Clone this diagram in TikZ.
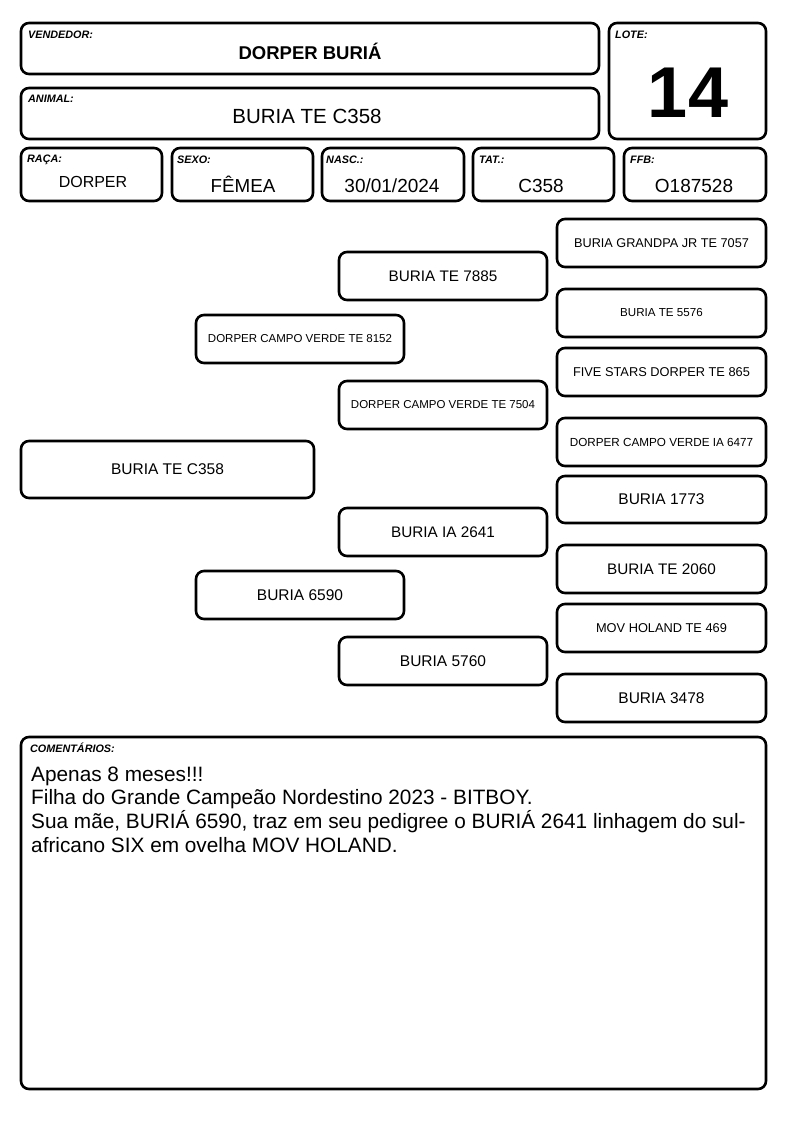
\documentclass[tikz,border=0pt]{standalone}
\usepackage{fontspec}
\setmainfont{Liberation Sans}
\tikzset{
  box/.style={draw, line width=2.6pt, rounded corners=8pt, inner sep=0pt, outer sep=0pt, align=center},
  lab/.style={font=\fontsize{10.8}{12}\selectfont\bfseries\itshape, anchor=base west, inner sep=0pt},
  val/.style={anchor=base, inner sep=0pt},
  com/.style={font=\fontsize{20.8}{24}\selectfont, anchor=base west, inner sep=0pt},
}
\newcommand\mybox[7]{\node[box, minimum width={(#4-#2)*1pt}, minimum height={(#5-#3)*1pt}, font=#6] (#1) at ({(#2+#4)/2},{(#3+#5)/2}) {#7};}
\begin{document}
\begin{tikzpicture}[x=1pt,y=-1pt]
\useasboundingbox (0,0) rectangle (794,1123);
% header
\mybox{vend}{21}{23}{599}{74}{}{}
\node[lab] (vendl) at (28,39) {VENDEDOR:};
\node[val, font=\fontsize{18.5}{22}\selectfont\bfseries] (vendv) at (310,60) {DORPER BURIÁ};
\mybox{anim}{21}{88}{599}{139}{}{}
\node[lab] (animl) at (28,103) {ANIMAL:};
\node[val, font=\fontsize{20.5}{24}\selectfont] (animv) at (307,124) {BURIA TE C358};
\mybox{lote}{609}{23}{766}{139}{}{}
\node[lab] (lotel) at (615,39) {LOTE:};
\node[val, font=\fontsize{72}{80}\selectfont\bfseries] (lotev) at (688,118) {14};
% row
\mybox{raca}{21}{148}{162}{201}{}{}
\node[lab] (racal) at (27,163) {RAÇA:};
\node[val, font=\fontsize{16}{19}\selectfont] (racav) at (93,188) {DORPER};
\mybox{sexo}{172}{148}{313}{201}{}{}
\node[lab] (sexol) at (177,164) {SEXO:};
\node[val, font=\fontsize{18.8}{22}\selectfont] (sexov) at (243,193) {FÊMEA};
\mybox{nasc}{322}{148}{464}{201}{}{}
\node[lab] (nascl) at (326,164) {NASC.:};
\node[val, font=\fontsize{19}{22}\selectfont] (nascv) at (392,193) {30/01/2024};
\mybox{tat}{473}{148}{614}{201}{}{}
\node[lab] (tatl) at (479,164) {TAT.:};
\node[val, font=\fontsize{19}{22}\selectfont] (tatv) at (541,193) {C358};
\mybox{ffb}{624}{148}{766}{201}{}{}
\node[lab] (ffbl) at (630,164) {FFB:};
\node[val, font=\fontsize{19}{22}\selectfont] (ffbv) at (694,193) {O187528};
% pedigree
\mybox{p0}{21}{441}{314}{498}{\fontsize{15.5}{18}\selectfont}{BURIA TE C358}
\mybox{p1}{196}{315}{404}{363}{\fontsize{11.5}{14}\selectfont}{DORPER CAMPO VERDE TE 8152}
\mybox{p2}{196}{571}{404}{619}{\fontsize{15.5}{18}\selectfont}{BURIA 6590}
\mybox{p11}{339}{252}{547}{300}{\fontsize{15.3}{18}\selectfont}{BURIA TE 7885}
\mybox{p12}{339}{381}{547}{429}{\fontsize{11.5}{14}\selectfont}{DORPER CAMPO VERDE TE 7504}
\mybox{p21}{339}{508}{547}{556}{\fontsize{15.3}{18}\selectfont}{BURIA IA 2641}
\mybox{p22}{339}{637}{547}{685}{\fontsize{15.5}{18}\selectfont}{BURIA 5760}
\mybox{p111}{557}{219}{766}{267}{\fontsize{12.7}{15}\selectfont}{BURIA GRANDPA JR TE 7057}
\mybox{p112}{557}{289}{766}{337}{\fontsize{11.6}{14}\selectfont}{BURIA TE 5576}
\mybox{p121}{557}{348}{766}{396}{\fontsize{12.8}{15}\selectfont}{FIVE STARS DORPER TE 865}
\mybox{p122}{557}{418}{766}{466}{\fontsize{11.7}{14}\selectfont}{DORPER CAMPO VERDE IA 6477}
\mybox{p211}{557}{476}{766}{523}{\fontsize{15.5}{18}\selectfont}{BURIA 1773}
\mybox{p212}{557}{545}{766}{593}{\fontsize{15.3}{18}\selectfont}{BURIA TE 2060}
\mybox{p221}{557}{604}{766}{652}{\fontsize{12.8}{15}\selectfont}{MOV HOLAND TE 469}
\mybox{p222}{557}{674}{766}{722}{\fontsize{15.5}{18}\selectfont}{BURIA 3478}
% comments
\mybox{coment}{21}{737}{766}{1089}{}{}
\node[lab] (comentl) at (30,752) {COMENTÁRIOS:};
\node[com] (c1) at (31,781) {Apenas 8 meses!!!};
\node[com] (c2) at (31,804.7) {Filha do Grande Campeão Nordestino 2023 - BITBOY.};
\node[com] (c3) at (31,828.4) {Sua mãe, BURIÁ 6590, traz em seu pedigree o BURIÁ 2641 linhagem do sul-};
\node[com] (c4) at (31,852) {africano SIX em ovelha MOV HOLAND.};
\end{tikzpicture}
\end{document}
